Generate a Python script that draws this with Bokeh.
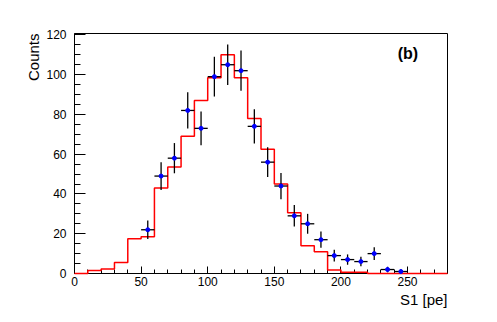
import numpy as np
from bokeh.plotting import figure
from bokeh.models import Range1d, SingleIntervalTicker, Label, ColumnDataSource, Title
from bokeh.embed import file_html
from bokeh.resources import INLINE

# Red histogram (bins of width 10 from 0 to 280)
bin_edges = list(range(0, 290, 10))
hist_vals = [0, 1.5, 2.3, 5.5, 17.5, 18.5, 43, 53.5, 69, 87, 98.5, 110, 98.5, 78,
             62.5, 45, 30.5, 14, 11, 1.7, 0.6, 0.6, 0, 0, 0, 0, 0, 0]

# Data points (bin centres, counts, errors)
pt_x = [55, 65, 75, 85, 95, 105, 115, 125, 135, 145, 155, 165, 175, 185, 195,
        205, 215, 225, 235, 245]
pt_y = [22, 49, 58, 82, 73, 99, 105, 102, 74, 56, 44, 29, 25, 17, 9, 7, 6, 10, 2, 1]
pt_err = [4.7, 7.0, 7.6, 9.1, 8.5, 10.0, 10.2, 10.1, 8.6, 7.5, 6.6, 5.4, 5.0, 4.1,
          3.0, 2.6, 2.4, 3.2, 1.4, 1.0]
half_width = 5

FONT = "Liberation Sans"

p = figure(width=497, height=322, output_backend="svg", toolbar_location=None,
           x_range=Range1d(0, 280), y_range=Range1d(0, 120.7),
           min_border_left=74, min_border_right=50, min_border_top=33,
           min_border_bottom=49)
p.grid.visible = False
p.background_fill_color = "white"
p.border_fill_color = "white"
p.outline_line_color = "black"
p.outline_line_width = 1

# axes
p.xaxis.ticker = SingleIntervalTicker(interval=50, num_minor_ticks=5)
p.yaxis.ticker = SingleIntervalTicker(interval=20, num_minor_ticks=4)
for ax in (p.xaxis, p.yaxis):
    ax.major_tick_out = 0
    ax.minor_tick_out = 0
    ax.major_tick_line_color = "black"
    ax.minor_tick_line_color = "black"
    ax.axis_line_color = "black"
    ax.major_label_text_font = FONT
    ax.major_label_text_font_size = "12px"
    ax.major_label_text_color = "black"
p.xaxis.major_tick_in = 7
p.xaxis.minor_tick_in = 4
p.yaxis.major_tick_in = 11
p.yaxis.minor_tick_in = 6
p.xaxis.major_label_standoff = 3
p.yaxis.major_label_standoff = 8

# red histogram
step_x = bin_edges
step_y = hist_vals + [hist_vals[-1]]
hist_r = p.step(x=step_x, y=step_y, mode="after", line_color="#ff0000", line_width=1.5)
hist_r.level = "overlay"

# data points with error bars
src = ColumnDataSource(dict(
    x=pt_x, y=pt_y,
    ylo=[y - e for y, e in zip(pt_y, pt_err)],
    yhi=[y + e for y, e in zip(pt_y, pt_err)],
    xlo=[x - half_width for x in pt_x],
    xhi=[x + half_width for x in pt_x],
))
for r in (
    p.segment(x0="x", y0="ylo", x1="x", y1="yhi", source=src, line_color="black", line_width=1.3),
    p.segment(x0="xlo", y0="y", x1="xhi", y1="y", source=src, line_color="black", line_width=1.3),
    p.scatter(x="x", y="y", source=src, marker="circle", size=4, fill_color="#0000ff",
              line_color="#0000ff"),
):
    r.level = "overlay"

# texts
p.add_layout(Label(x=242.6, y=110.7, text="(b)", text_font=FONT, text_font_size="16px",
                   text_font_style="bold", text_align="left", text_baseline="middle",
                   text_color="black"))
p.add_layout(Title(text="Counts", text_font=FONT, text_font_size="15px",
                   text_font_style="normal", align="right", standoff=4, offset=0,
                   text_color="black"), "left")
p.add_layout(Title(text="S1 [pe]", text_font=FONT, text_font_size="15px",
                   text_font_style="normal", align="right", standoff=0, offset=0,
                   text_color="black"), "below")

open("out.html", "w").write(file_html(p, INLINE))
